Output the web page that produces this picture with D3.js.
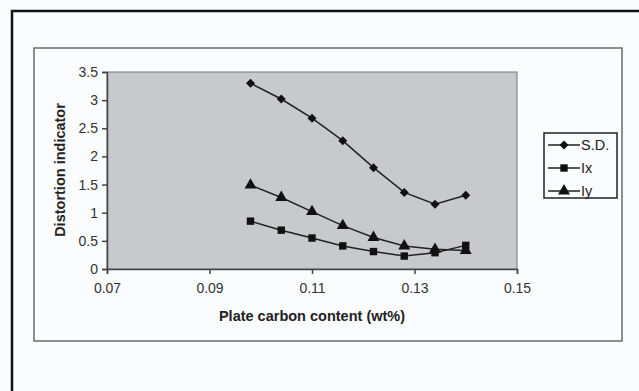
<!DOCTYPE html>
<html>
<head>
<meta charset="utf-8">
<script src="https://cdn.jsdelivr.net/npm/d3@7"></script>
<style>
  body { margin: 0; background: #fbfcfd; }
  svg { display: block; }
</style>
</head>
<body>
<svg id="chart" width="639" height="391"></svg>
<script>
// data
var carbon = [0.098, 0.104, 0.110, 0.116, 0.122, 0.128, 0.134, 0.140];
var sd = [3.30, 3.02, 2.68, 2.28, 1.80, 1.36, 1.15, 1.31];
var ix = [0.85, 0.69, 0.55, 0.41, 0.31, 0.23, 0.29, 0.42];
var iy = [1.49, 1.27, 1.02, 0.77, 0.56, 0.41, 0.35, 0.33];
var xTicks = [0.07, 0.09, 0.11, 0.13, 0.15];
var yTicks = [0, 0.5, 1, 1.5, 2, 2.5, 3, 3.5];
var seriesNames = ["S.D.", "Ix", "Iy"];
var seriesShapes = [d3.symbolSquare, d3.symbolSquare, d3.symbolTriangle];
var seriesRotate = [45, 0, 0];

var font = "Liberation Sans, Arial, sans-serif";
var svg = d3.select("#chart");

// outer frame (only top and left visible)
svg.append("path")
  .attr("d", "M12,400 L12,11 L650,11")
  .attr("fill", "none")
  .attr("stroke", "#111")
  .attr("stroke-width", 2.5);

// chart frame
svg.append("rect")
  .attr("x", 34).attr("y", 48)
  .attr("width", 588).attr("height", 293)
  .attr("fill", "#fbfcfd")
  .attr("stroke", "#6a6a6a")
  .attr("stroke-width", 1.5);

var pLeft = 107, pRight = 517, pTop = 72, pBottom = 269;

var scaleX = d3.scaleLinear().domain([0.07, 0.15]).range([pLeft, pRight]);
var scaleY = d3.scaleLinear().domain([0, 3.5]).range([pBottom, pTop]);

svg.append("rect")
  .attr("x", pLeft).attr("y", pTop)
  .attr("width", pRight - pLeft).attr("height", pBottom - pTop)
  .attr("fill", "#c8c9cc")
  .attr("stroke", "#777")
  .attr("stroke-width", 1);

var xAxis = d3.axisBottom(scaleX).tickValues(xTicks).tickSize(5).tickPadding(9)
  .tickFormat(function(d) { return d3.format(".2f")(d); });
var gx = svg.append("g")
  .attr("transform", "translate(0," + pBottom + ")")
  .call(xAxis);
gx.select(".domain").attr("stroke", "#444").attr("stroke-width", 1.5);
gx.selectAll(".tick line").attr("stroke", "#444").attr("stroke-width", 1.5);

var yAxis = d3.axisLeft(scaleY).tickValues(yTicks).tickSize(5).tickPadding(4)
  .tickFormat(function(d) { return String(d); });
var gy = svg.append("g")
  .attr("transform", "translate(" + pLeft + ",0)")
  .call(yAxis);
gy.select(".domain").attr("stroke", "#444").attr("stroke-width", 1.5);
gy.selectAll(".tick line").attr("stroke", "#444").attr("stroke-width", 1.5);

svg.selectAll(".tick text")
  .attr("font-family", font)
  .attr("font-size", 14)
  .attr("fill", "#333");

svg.append("text")
  .attr("x", 312).attr("y", 321)
  .attr("text-anchor", "middle")
  .attr("font-family", font)
  .attr("font-size", 14.5).attr("font-weight", "bold").attr("fill", "#222")
  .text("Plate carbon content  (wt%)");

svg.append("text")
  .attr("transform", "translate(65,170) rotate(-90)")
  .attr("text-anchor", "middle")
  .attr("font-family", font)
  .attr("font-size", 14.5).attr("font-weight", "bold").attr("fill", "#222")
  .text("Distortion indicator");

var list = [sd, ix, iy].map(function(vals) {
  return vals.map(function(v, i) { return { x: carbon[i], y: v }; });
});

var lineFunction = d3.line()
  .x(function(d) { return scaleX(d.x); })
  .y(function(d) { return scaleY(d.y); });

svg.selectAll("path.line").data(list).enter()
  .append("path")
  .attr("class", "line")
  .attr("d", function(d) { return lineFunction(d); })
  .attr("stroke", "#222")
  .attr("stroke-width", 1.5)
  .attr("fill", "none");

var symSizes = [40, 55, 62];
list.forEach(function(pts, s) {
  svg.selectAll("path.m" + s).data(pts).enter()
    .append("path")
    .attr("class", "m" + s)
    .attr("transform", function(d) {
      return "translate(" + scaleX(d.x) + "," + scaleY(d.y) + ") rotate(" + seriesRotate[s] + ")";
    })
    .attr("d", d3.symbol().type(seriesShapes[s]).size(symSizes[s]))
    .attr("fill", "#111");
});

// legend
var lg = svg.append("g");
lg.append("rect")
  .attr("x", 544).attr("y", 133).attr("width", 73).attr("height", 65)
  .attr("fill", "#fbfcfd").attr("stroke", "#222").attr("stroke-width", 1.5);
seriesNames.forEach(function(name, i) {
  var y = 145 + i * 23;
  lg.append("line").attr("x1", 548).attr("x2", 580).attr("y1", y).attr("y2", y)
    .attr("stroke", "#222").attr("stroke-width", 1.5);
  lg.append("path")
    .attr("transform", "translate(564," + y + ") rotate(" + seriesRotate[i] + ")")
    .attr("d", d3.symbol().type(seriesShapes[i]).size(symSizes[i]))
    .attr("fill", "#111");
  lg.append("text").attr("x", 581).attr("y", y + 5)
    .attr("font-family", font)
    .attr("font-size", 14.5).attr("fill", "#222")
    .text(name);
});
</script>
</body>
</html>
